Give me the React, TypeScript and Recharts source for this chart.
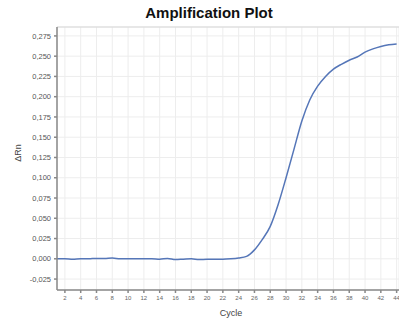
import { CartesianGrid, Label, Line, LineChart, ReferenceLine, XAxis, YAxis } from "recharts";

const cycles = [
  1, 2, 3, 4, 5, 6, 7, 8, 9, 10, 11, 12, 13, 14, 15, 16, 17, 18, 19, 20, 21, 22,
  23, 24, 25, 26, 27, 28, 29, 30, 31, 32, 33, 34, 35, 36, 37, 38, 39, 40, 41, 42,
  43, 44,
];

const deltaRn = [
  0.0, 0.0, -0.0005, 0.0, 0.0, 0.0005, 0.0005, 0.001, 0.0, 0.0, 0.0, 0.0, 0.0,
  -0.0005, 0.0005, -0.001, -0.0005, 0.0, -0.001, -0.0005, -0.0005, -0.0005, 0.0,
  0.001, 0.003, 0.011, 0.024, 0.04, 0.067, 0.1, 0.135, 0.17, 0.196, 0.213, 0.225,
  0.234, 0.24, 0.245, 0.249, 0.255, 0.259, 0.262, 0.264, 0.265,
];

const xTicks = [2, 4, 6, 8, 10, 12, 14, 16, 18, 20, 22, 24, 26, 28, 30, 32, 34, 36, 38, 40, 42, 44];
const yTicks = [-0.025, 0, 0.025, 0.05, 0.075, 0.1, 0.125, 0.15, 0.175, 0.2, 0.225, 0.25, 0.275];

const Y_MIN = -0.0385;
const Y_MAX = 0.286;

const data = cycles.map((c, i) => ({ cycle: c, rn: deltaRn[i] }));

const fmt = (v: number) => v.toFixed(3).replace(".", ",");

export default function App() {
  return (
    <div
      style={{
        position: "absolute",
        left: 0,
        top: 0,
        width: 399,
        height: 322,
        background: "#fff",
        fontFamily: "'Liberation Sans', Arial, sans-serif",
      }}
    >
      <div
        style={{
          position: "absolute",
          left: 0,
          width: 418,
          top: 4,
          textAlign: "center",
          fontWeight: "bold",
          fontSize: 15,
          color: "#111",
        }}
      >
        Amplification Plot
      </div>
      <LineChart
        width={399}
        height={322}
        data={data}
        margin={{ top: 27, right: 0, left: 0, bottom: 12 }}
      >
        <CartesianGrid stroke="#ededed" strokeWidth={1} />
        <ReferenceLine y={Y_MAX} stroke="#d8d8d8" />
        <XAxis
          dataKey="cycle"
          type="number"
          domain={[1, 44.3]}
          ticks={xTicks}
          allowDataOverflow
          height={20}
          tickSize={3}
          tickMargin={3}
          interval={0}
          stroke="#888"
          strokeWidth={1.5}
          tick={{ fontSize: 6, fill: "#666" }}
        >
          <Label
            content={() => (
              <text x={231} y={316} fontSize={9} fill="#444" textAnchor="middle">
                Cycle
              </text>
            )}
          />
        </XAxis>
        <YAxis
          type="number"
          domain={[Y_MIN, Y_MAX]}
          ticks={yTicks}
          allowDataOverflow
          width={57}
          tickSize={3}
          tickMargin={3}
          interval={0}
          stroke="#888"
          strokeWidth={1.5}
          tickFormatter={fmt}
          tick={{ fontSize: 7.5, fill: "#555" }}
        >
          <Label
            content={() => (
              <text
                x={21}
                y={153}
                fontSize={9}
                fill="#444"
                textAnchor="middle"
                transform="rotate(-90 21 153)"
              >
                ΔRn
              </text>
            )}
          />
        </YAxis>
        <Line
          type="monotone"
          dataKey="rn"
          stroke="#5576b8"
          strokeWidth={1.5}
          dot={false}
          isAnimationActive={false}
        />
      </LineChart>
    </div>
  );
}
